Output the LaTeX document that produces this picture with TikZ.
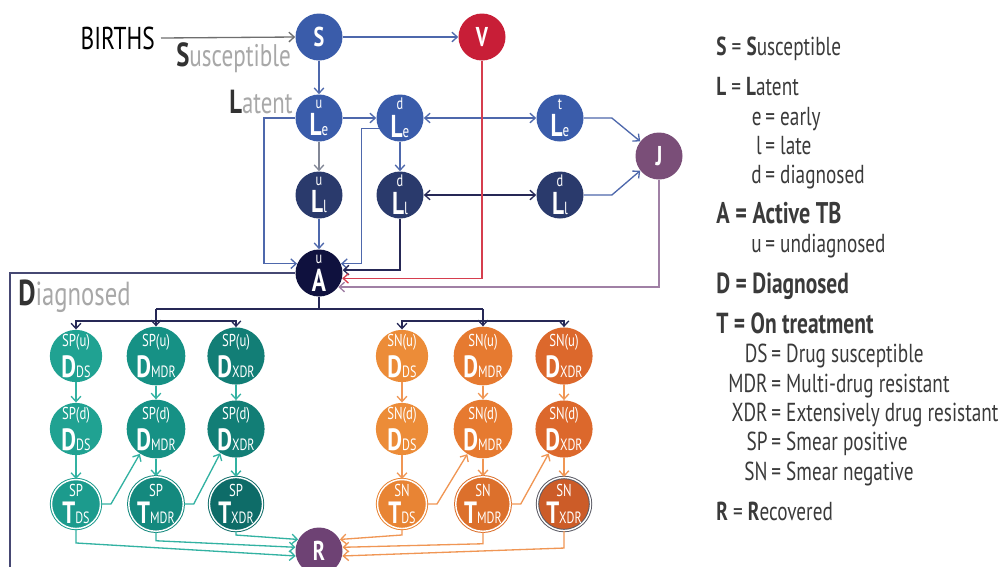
\documentclass[tikz,border=0pt]{standalone}
\usepackage{fontspec}
\setmainfont{PT Sans}[FakeStretch=0.74]
\usetikzlibrary{arrows.meta}
\definecolor{cBlue}{RGB}{58,92,170}
\definecolor{cBlueD}{RGB}{42,58,108}
\definecolor{cNavy}{RGB}{15,17,62}
\definecolor{cRed}{RGB}{200,30,55}
\definecolor{cJ}{RGB}{122,78,120}
\definecolor{cR}{RGB}{110,66,116}
\definecolor{tA}{RGB}{32,162,146}
\definecolor{tB}{RGB}{22,145,133}
\definecolor{tC}{RGB}{18,126,118}
\definecolor{tTA}{RGB}{28,155,141}
\definecolor{tTB}{RGB}{20,137,126}
\definecolor{tTC}{RGB}{14,108,104}
\definecolor{oA}{RGB}{236,140,56}
\definecolor{oB}{RGB}{230,122,48}
\definecolor{oC}{RGB}{220,104,44}
\definecolor{oTA}{RGB}{232,132,52}
\definecolor{oTB}{RGB}{220,112,44}
\definecolor{oTC}{RGB}{204,92,40}
\definecolor{lnBlue}{RGB}{78,104,172}
\definecolor{lnGray}{RGB}{130,135,150}
\definecolor{lnNavy}{RGB}{38,40,86}
\definecolor{lnRed}{RGB}{214,62,78}
\definecolor{lnMauve}{RGB}{160,128,165}
\definecolor{lnTeal}{RGB}{50,178,162}
\definecolor{lnOrange}{RGB}{240,150,84}
\definecolor{lnBirth}{RGB}{110,110,110}
\definecolor{lnDiag}{RGB}{70,72,115}
\definecolor{legTxt}{RGB}{58,58,58}
\definecolor{lightTxt}{RGB}{168,168,168}
\definecolor{darkTxt}{RGB}{50,50,50}
\definecolor{ringGray}{RGB}{90,90,100}
\newcommand\llab[3]{\shortstack{{\fontsize{9.5}{9.5}\selectfont #1}\\{\fontsize{18}{18}\selectfont\bfseries #2}{\fontsize{10}{10}\selectfont #3}}}
\newcommand\dlab[3]{\shortstack{{\fontsize{9.8}{9.8}\selectfont #1}\\{\fontsize{17.5}{17.5}\selectfont\bfseries #2}{\fontsize{9.3}{9.3}\selectfont #3}}}
\begin{document}
\begin{tikzpicture}[x=0.02cm,y=-0.02cm,
 cn/.style={circle,minimum size=0.94cm,inner sep=0pt,text=white},
 tn/.style={circle,minimum size=0.98cm,inner sep=0pt,text=white,double=white,double distance=0.8pt,line width=0.55pt},
 arr/.style={-{Straight Barb[length=3pt,width=5.5pt]}},
 barr/.style={{Straight Barb[length=3pt,width=5.5pt]}-{Straight Barb[length=3pt,width=5.5pt]}},
 ln/.style={line width=0.75pt},
 leg/.style={inner sep=0pt,text=legTxt,font=\fontsize{14.8}{16}\selectfont},
 legb/.style={inner sep=0pt,text=legTxt,font=\fontsize{16.5}{18}\selectfont\bfseries},
 big/.style={font=\fontsize{15.5}{15.5}\selectfont\bfseries}]
\fill[white] (0,0) rectangle (1000,566);
\useasboundingbox (0,0) rectangle (1000,566);

% ---- top nodes
\node[cn,fill=cBlue,big] (S) at (319,37) {S};
\node[cn,fill=cRed,big] (V) at (482,37) {V};
\node[cn,fill=cBlue] (Lue) at (319,118) {\llab{u}{L}{e}};
\node[cn,fill=cBlue] (Lde) at (400,118) {\llab{d}{L}{e}};
\node[cn,fill=cBlue] (Lte) at (560,118) {\llab{t}{L}{e}};
\node[cn,fill=cBlueD] (Lul) at (319,195) {\llab{u}{L}{l}};
\node[cn,fill=cBlueD] (Ldl) at (400,195) {\llab{d}{L}{l}};
\node[cn,fill=cBlueD] (Ldr) at (560,195) {\llab{d}{L}{l}};
\node[cn,fill=cJ,big] (J) at (659,156) {J};
\node[cn,fill=cNavy] (A) at (319,273) {\llab{u}{A}{}};
\node[cn,fill=cR,big] (R) at (319,551) {R};

% ---- teal (smear positive)
\node[cn,fill=tA] (tD1) at (76,356) {\dlab{SP(u)}{D}{DS}};
\node[cn,fill=tB] (tM1) at (156,356) {\dlab{SP(u)}{D}{MDR}};
\node[cn,fill=tC] (tX1) at (236,356) {\dlab{SP(u)}{D}{XDR}};
\node[cn,fill=tA] (tD2) at (76,429) {\dlab{SP(d)}{D}{DS}};
\node[cn,fill=tB] (tM2) at (156,429) {\dlab{SP(d)}{D}{MDR}};
\node[cn,fill=tC] (tX2) at (236,429) {\dlab{SP(d)}{D}{XDR}};
\node[tn,fill=tTA,draw=tTA] (tD3) at (76,504) {\dlab{SP}{T}{DS}};
\node[tn,fill=tTB,draw=tTB] (tM3) at (156,504) {\dlab{SP}{T}{MDR}};
\node[tn,fill=tTC,draw=tTC] (tX3) at (236,504) {\dlab{SP}{T}{XDR}};

% ---- orange (smear negative)
\node[cn,fill=oA] (oD1) at (402,356) {\dlab{SN(u)}{D}{DS}};
\node[cn,fill=oB] (oM1) at (483,356) {\dlab{SN(u)}{D}{MDR}};
\node[cn,fill=oC] (oX1) at (564,356) {\dlab{SN(u)}{D}{XDR}};
\node[cn,fill=oA] (oD2) at (402,429) {\dlab{SN(d)}{D}{DS}};
\node[cn,fill=oB] (oM2) at (483,429) {\dlab{SN(d)}{D}{MDR}};
\node[cn,fill=oC] (oX2) at (564,429) {\dlab{SN(d)}{D}{XDR}};
\node[tn,fill=oTA,draw=oTA] (oD3) at (402,504) {\dlab{SN}{T}{DS}};
\node[tn,fill=oTB,draw=oTB] (oM3) at (483,504) {\dlab{SN}{T}{MDR}};
\node[tn,fill=oTC,draw=ringGray] (oX3) at (564,504) {\dlab{SN}{T}{XDR}};

% ---- side labels
\node[anchor=east,font=\fontsize{18}{18}\selectfont,text=black] (births) at (161,38) {BIRTHS};
\node[anchor=west,inner sep=0pt,text=lightTxt,font=\fontsize{17.8}{18}\selectfont] (susc) at (176,58) {\textcolor{darkTxt}{\bfseries\fontsize{19}{18}\selectfont S}usceptible};
\node[anchor=east,inner sep=0pt,text=lightTxt,font=\fontsize{17.5}{18}\selectfont] (lat) at (293,102) {\textcolor{darkTxt}{\bfseries\fontsize{19}{18}\selectfont L}atent};
\node[anchor=west,inner sep=0pt,text=lightTxt,font=\fontsize{19}{19}\selectfont] (diag) at (18,296) {\textcolor{darkTxt}{\bfseries\fontsize{20.5}{20}\selectfont D}iagnosed};

% ---- top connectors
\draw[ln,lnBirth,arr] (births.east) -- (S.west);
\draw[ln,lnBlue,arr] (S.east) -- (V.west);
\draw[ln,lnBlue,arr] (S.south) -- (Lue.north);
\draw[ln,lnBlue,arr] (Lue.east) -- (Lde.west);
\draw[ln,lnGray,arr] (Lue.south) -- (Lul.north);
\draw[ln,lnBlue,arr] (Lde.south) -- (Ldl.north);
\draw[ln,lnBlue,arr] (Lul.south) -- (A.north);
\draw[ln,lnBlue,barr] (Lde.east) -- (Lte.west);
\draw[ln,lnNavy,barr] (Ldl.east) -- (Ldr.west);
\draw[ln,lnBlue,arr] (Lte.east) -- ++(28,0) -- (J.142);
\draw[ln,lnBlue,arr] (Ldr.east) -- ++(28,0) -- (J.218);
\draw[ln,lnBlue,arr] (Lue.west) -- ++(-31,0) |- (A.157);
\draw[ln,lnBlue,arr] (Lde.206) -- ++(-17,0) |- (A.23);
\draw[ln,lnNavy,arr] (Ldl.south) |- (A.7);
\draw[ln,lnRed,arr] (V.south) |- (A.-13);
\draw[ln,lnMauve,arr] (J.south) |- (A.-36);

% ---- diagnosed frame
\coordinate (dcorner) at (10,575);
\draw[ln,lnDiag] (A.west) -| (dcorner);

% ---- distribution from A
\coordinate (hub) at (319,309);
\coordinate (hubL) at (156,309);
\coordinate (hubR) at (483,309);
\coordinate (barL) at (156,321);
\coordinate (barR) at (483,321);
\draw[ln,lnNavy] (A.south) -- (hub);
\draw[ln,lnNavy] (hubL) -- (hubR);
\draw[ln,lnNavy,arr] (hubL) -- (tM1.north);
\draw[ln,lnNavy,arr] (barL) -| (tD1.north);
\draw[ln,lnNavy,arr] (barL) -| (tX1.north);
\draw[ln,lnNavy,arr] (hubR) -- (oM1.north);
\draw[ln,lnNavy,arr] (barR) -| (oD1.north);
\draw[ln,lnNavy,arr] (barR) -| (oX1.north);

% ---- teal connectors
\foreach \a/\b in {tD1/tD2,tM1/tM2,tX1/tX2,tD2/tD3,tM2/tM3,tX2/tX3}
  \draw[ln,lnTeal,arr] (\a.south) -- (\b.north);
\draw[ln,lnTeal,arr] (tD3.east) -- ++(10,0) -- (tM2.237);
\draw[ln,lnTeal,arr] (tM3.east) -- ++(10,0) -- (tX2.237);
\draw[ln,lnTeal,arr] (tD3.south) -- ++(0,14) -- (R.192);
\draw[ln,lnTeal,arr] (tM3.south) -- ++(0,9) -- (R.171);
\draw[ln,lnTeal,arr] (tX3.south) -- ++(0,4) -- (R.151);

% ---- orange connectors
\foreach \a/\b in {oD1/oD2,oM1/oM2,oX1/oX2,oD2/oD3,oM2/oM3,oX2/oX3}
  \draw[ln,lnOrange,arr] (\a.south) -- (\b.north);
\draw[ln,lnOrange,arr] (oD3.east) -- ++(10,0) -- (oM2.238);
\draw[ln,lnOrange,arr] (oM3.east) -- ++(10,0) -- (oX2.238);
\draw[ln,lnOrange,arr] (oD3.south) -- ++(0,6) -- (R.29);
\draw[ln,lnOrange,arr] (oM3.south) -- ++(0,12) -- (R.9);
\draw[ln,lnOrange,arr] (oX3.south) -- ++(0,17) -- (R.-12);

% ---- legend
\node[leg,anchor=base west] (gS) at (716,55) {\textbf{S} = \textbf{S}usceptible};
\node[leg,anchor=base west] (gL) at (716,95) {\textbf{L} = \textbf{L}atent};
\node[leg,anchor=base east] (ge1) at (762,125) {e};
\node[leg,anchor=base west] (ge2) at (765,125) {= early};
\node[leg,anchor=base east] (gl1) at (762,154) {l};
\node[leg,anchor=base west] (gl2) at (765,154) {= late};
\node[leg,anchor=base east] (gd1) at (762,183) {d};
\node[leg,anchor=base west] (gd2) at (765,183) {= diagnosed};
\node[legb,anchor=base west,font=\fontsize{17}{18}\selectfont\bfseries] (gA) at (716,223) {A = Active TB};
\node[leg,anchor=base east] (gu1) at (762,252) {u};
\node[leg,anchor=base west] (gu2) at (765,252) {= undiagnosed};
\node[legb,anchor=base west] (gD) at (716,293) {D = Diagnosed};
\node[legb,anchor=base west] (gT) at (716,333) {T = On treatment};
\node[leg,anchor=base east] (gds1) at (768,362) {DS};
\node[leg,anchor=base west] (gds2) at (771,362) {= Drug susceptible};
\node[leg,anchor=base east] (gmdr1) at (768,392) {MDR};
\node[leg,anchor=base west] (gmdr2) at (771,392) {= Multi-drug resistant};
\node[leg,anchor=base east] (gxdr1) at (768,421) {XDR};
\node[leg,anchor=base west] (gxdr2) at (771,421) {= Extensively drug resistant};
\node[leg,anchor=base east] (gsp1) at (768,450) {SP};
\node[leg,anchor=base west] (gsp2) at (771,450) {= Smear positive};
\node[leg,anchor=base east] (gsn1) at (768,480) {SN};
\node[leg,anchor=base west] (gsn2) at (771,480) {= Smear negative};
\node[leg,anchor=base west] (gR) at (716,520) {\textbf{R} = \textbf{R}ecovered};
\end{tikzpicture}
\end{document}
